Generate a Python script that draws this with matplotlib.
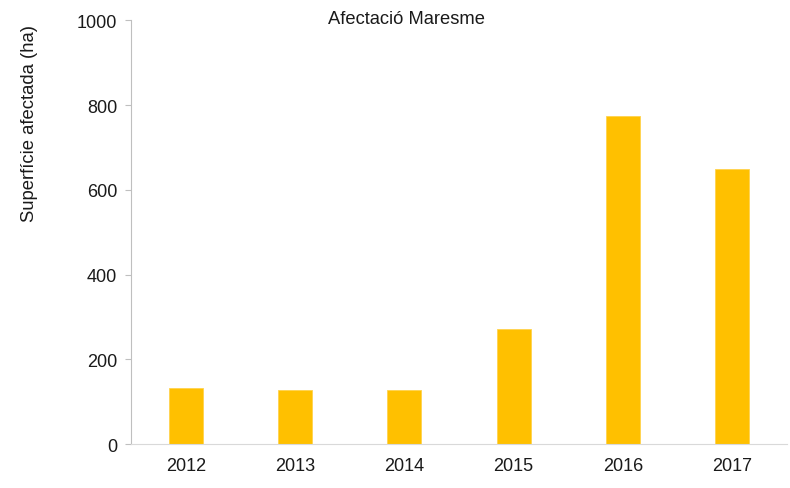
import matplotlib
matplotlib.use("Agg")
import matplotlib.pyplot as plt

plt.rcParams['font.family'] = ['Liberation Sans', 'DejaVu Sans']

years = ["2012", "2013", "2014", "2015", "2016", "2017"]
superficie = [132, 128, 128, 272, 774, 649]

fig = plt.figure(figsize=(7.9, 4.89), dpi=100)
ax = fig.add_axes([0.166, 0.0894, 0.830, 0.867])

x = range(len(years))
ax.bar(x, superficie, width=0.31, color="#FFC000", edgecolor="#FFD24D", linewidth=0.6)

ax.set_xlim(-0.5, len(years) - 0.5)
ax.set_ylim(0, 1000)
ax.set_yticks(range(0, 1001, 200))
ax.set_xticks(list(x))
ax.set_xticklabels(years)

for side in ["top", "right"]:
    ax.spines[side].set_visible(False)
ax.spines["left"].set_color("#BFBFBF")
ax.spines["bottom"].set_color("#D9D9D9")
ax.tick_params(axis="y", colors="#BFBFBF", labelcolor="#1a1a1a", labelsize=13,
               length=4, direction="out", pad=6)
ax.tick_params(axis="x", length=0, labelsize=13, labelcolor="#1a1a1a", pad=9)

fig.text(407 / 790, 1 - 19 / 489, "Afectació Maresme", ha="center", va="center",
         fontsize=13.2, color="#1a1a1a")
fig.text(30 / 790, 1 - 123 / 489, "Superfície afectada (ha)", rotation=90,
         ha="center", va="center", fontsize=13.3, color="#1a1a1a")

fig.savefig("out.png", dpi=100)
